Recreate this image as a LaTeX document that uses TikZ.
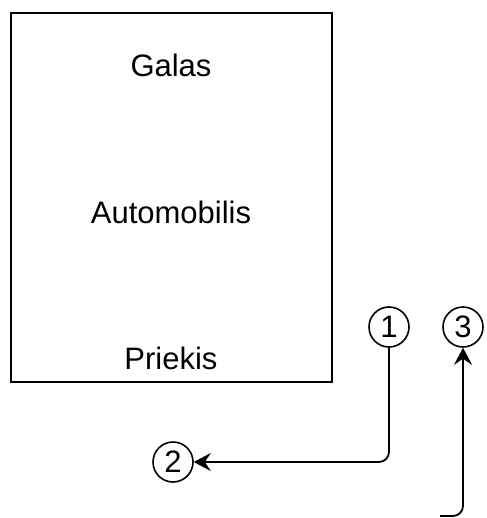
\documentclass[tikz,border=0pt]{standalone}
\usepackage{fontspec}
\setmainfont{Liberation Sans}
\usepackage{tikz}
\usetikzlibrary{arrows.meta}

\tikzset{
  part/.style={inner sep=0pt},
  num/.style={draw,circle,line width=0.8pt,minimum size=20pt,inner sep=0pt},
  link/.style={line width=0.9pt,rounded corners=5pt,-{Stealth[length=8.5pt,width=9pt,inset=3pt]}}
}

\begin{document}
\begin{tikzpicture}[x=0.5pt,y=-0.5pt,font=\fontsize{15.5}{18}\selectfont]
  \useasboundingbox (0,0) rectangle (486,518);
  \draw (171.5,197.5) node[draw,line width=1pt,minimum width=160.5pt,minimum height=184.5pt] (car) {};
    \draw (171,65) node[part] (galas) {Galas};
    \draw (171,212) node[part] (automobilis) {Automobilis};
    \draw (171,358) node[part] (priekis) {Priekis};

  \draw (389,327) node[num] (n1) {1};
  \draw (173,462) node[num] (n2) {2};
  \draw (463,327) node[num] (n3) {3};
  \coordinate (tail) at (440,516);

      \draw[link] (n1.south) |- (n2.east);
      \draw[link] (tail) -| (n3.south);
\end{tikzpicture}
\end{document}
